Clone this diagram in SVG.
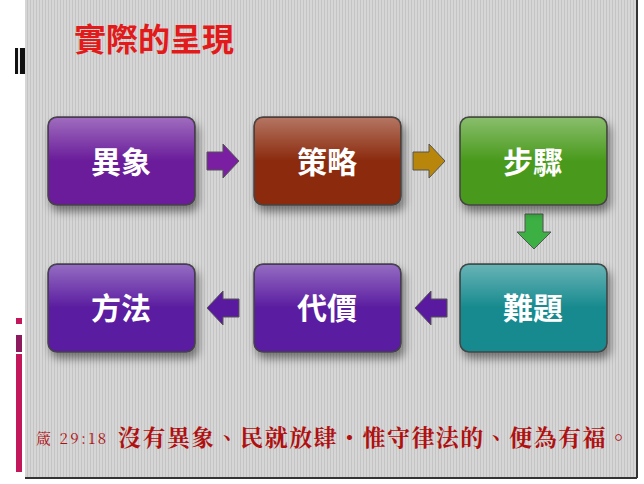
<svg xmlns="http://www.w3.org/2000/svg" width="644" height="484" viewBox="0 0 644 484">
<defs>
<pattern id="stripe" width="3" height="4" patternUnits="userSpaceOnUse"><rect width="3" height="4" fill="#d6d6d6"/><rect width="1" height="4" fill="#c4c4c4"/></pattern>
<filter id="sh" x="-20%" y="-20%" width="150%" height="160%"><feDropShadow dx="3" dy="6" stdDeviation="4" flood-opacity="0.45"/></filter>
<linearGradient id="gl" x1="0" y1="0" x2="0" y2="1"><stop offset="0" stop-color="#fff" stop-opacity="0.35"/><stop offset="0.5" stop-color="#fff" stop-opacity="0"/></linearGradient>
</defs>
<style>
.box{stroke:#444;stroke-width:1.5;filter:url(#sh)}
.lbl{font-family:"Noto Sans CJK TC",sans-serif;font-weight:bold;font-size:30px;fill:#fff;text-anchor:middle;dominant-baseline:central}
.arr{stroke:#555;stroke-width:1}
</style>
<rect width="644" height="484" fill="#fff"/>
<rect x="25" y="0" width="612" height="478" fill="url(#stripe)"/>
<line x1="25" y1="478" x2="637" y2="478" stroke="#333" stroke-width="2"/>
<line x1="637" y1="0" x2="637" y2="478" stroke="#333" stroke-width="2"/>
<rect x="15" y="48" width="10" height="26" fill="#111"/><rect x="18" y="48" width="2" height="26" fill="#eee"/>
<rect x="16" y="318" width="6" height="6" fill="#c2185b"/>
<rect x="16" y="335" width="6" height="17" fill="#8b1a5e"/>
<rect x="16" y="354" width="6" height="118" fill="#c2185b"/>
<text x="74" y="51" font-family="Noto Sans CJK TC,sans-serif" font-weight="bold" font-size="32" fill="#e21a1a">實際的呈現</text>
<g id="connectors">
<polygon class="arr" fill="#7a1fa2" points="207,152 223,152 223,144 239,161 223,178 223,170 207,170"/>
<polygon class="arr" fill="#b8860b" points="413,152 429,152 429,144 445,161 429,178 429,170 413,170"/>
<polygon class="arr" fill="#3cb043" points="525,214 543,214 543,232 551,232 534,249 517,232 525,232"/>
<polygon class="arr" fill="#5a1aa0" points="447,299 431,299 431,291 415,308 431,325 431,317 447,317"/>
<polygon class="arr" fill="#5a1aa0" points="239,299 223,299 223,291 207,308 223,325 223,317 239,317"/>
</g>
<g id="n1"><rect class="box" x="48" y="117" width="147" height="88" rx="9" fill="#6a1b9a"/><rect x="49" y="118" width="145" height="86" rx="8" fill="url(#gl)"/><text class="lbl" x="121" y="160">異象</text></g>
<g id="n2"><rect class="box" x="254" y="117" width="147" height="88" rx="9" fill="#8b2a0c"/><rect x="255" y="118" width="145" height="86" rx="8" fill="url(#gl)"/><text class="lbl" x="327" y="160">策略</text></g>
<g id="n3"><rect class="box" x="460" y="117" width="147" height="88" rx="9" fill="#4a9a1a"/><rect x="461" y="118" width="145" height="86" rx="8" fill="url(#gl)"/><text class="lbl" x="533" y="160">步驟</text></g>
<g id="n4"><rect class="box" x="460" y="264" width="147" height="88" rx="9" fill="#128a8e"/><rect x="461" y="265" width="145" height="86" rx="8" fill="url(#gl)"/><text class="lbl" x="533" y="306">難題</text></g>
<g id="n5"><rect class="box" x="254" y="264" width="147" height="88" rx="9" fill="#5a1aa0"/><rect x="255" y="265" width="145" height="86" rx="8" fill="url(#gl)"/><text class="lbl" x="327" y="306">代價</text></g>
<g id="n6"><rect class="box" x="48" y="264" width="147" height="88" rx="9" fill="#5a1aa0"/><rect x="49" y="265" width="145" height="86" rx="8" fill="url(#gl)"/><text class="lbl" x="121" y="306">方法</text></g>
<text x="36" y="444" font-family="Noto Serif CJK TC,Liberation Serif,Noto Sans CJK TC,serif" fill="#b01010" font-size="15" textLength="70">箴 29:18</text>
<text x="118" y="446" font-family="Noto Serif CJK TC,Noto Sans CJK TC,serif" fill="#b01010" font-size="23" font-weight="bold" textLength="512" lengthAdjust="spacing">沒有異象、民就放肆・惟守律法的、便為有福。</text>
</svg>
